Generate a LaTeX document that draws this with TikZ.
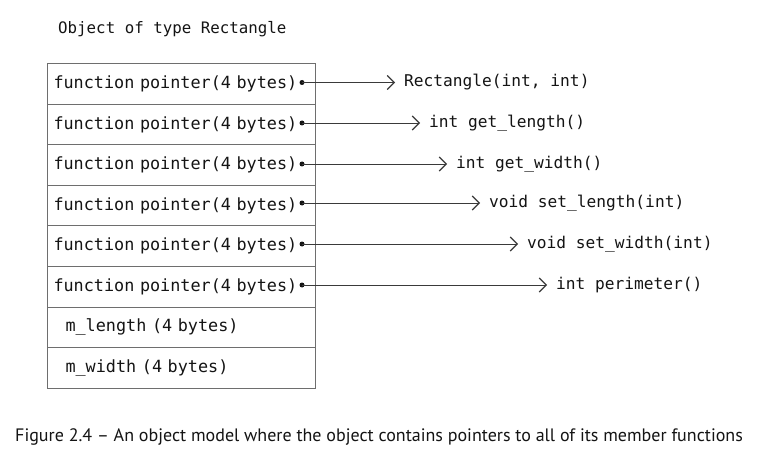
\documentclass[tikz,border=0pt]{standalone}
\usepackage{fontspec}
\setmonofont{DejaVu Sans Mono}
\newfontfamily\capfont{PT Sans}
\usetikzlibrary{arrows.meta}
\definecolor{boxgray}{HTML}{6E6E6E}
\definecolor{ink}{HTML}{141414}
\definecolor{linegray}{HTML}{3A3A3A}
\begin{document}
\begin{tikzpicture}[x=1pt,y=-1pt,
  cell/.style={draw=boxgray, line width=1pt, rectangle, anchor=north west,
    minimum width=268pt, minimum height=40.6pt, text width=256pt, inner xsep=6pt,
    inner ysep=0pt, align=left, text=ink, font=\ttfamily\fontsize{16.8}{19}\selectfont},
  func/.style={anchor=west, inner sep=0pt, text=ink, font=\ttfamily\fontsize{16.2}{19}\selectfont},
  ptr/.style={draw=linegray, line width=0.9pt, -{Straight Barb[length=7pt,width=14pt,line width=1.1pt]}, shorten >=9pt},
  dotmark/.style={circle, fill=ink, inner sep=0pt, minimum size=5pt}]
\useasboundingbox (0,0) rectangle (770,457);
\fill[white] (0,0) rectangle (770,457);
\node[func, font=\ttfamily\fontsize{15.8}{19}\selectfont] (title) at (58,29) {Object of type Rectangle};
\foreach \i/\t in {1/{function pointer(4 bytes)},2/{function pointer(4 bytes)},3/{function pointer(4 bytes)},4/{function pointer(4 bytes)},5/{function pointer(4 bytes)},6/{function pointer(4 bytes)},7/{\hspace*{12pt}m\_length (4 bytes)},8/{\hspace*{12pt}m\_width (4 bytes)}}{
  \node[cell] (c\i) at (47,{63+(\i-1)*40.6}) {\t};
}
\foreach \i/\y in {1/82.5,2/123,3/164,4/203,5/244,6/285}{
  \node[dotmark] (d\i) at (302,\y) {};
}
\node[func] (f1) at (404,82.5) {Rectangle(int, int)};
\node[func] (f2) at (429,123) {int get\_length()};
\node[func] (f3) at (456,164) {int get\_width()};
\node[func] (f4) at (489,203) {void set\_length(int)};
\node[func] (f5) at (527,244) {void set\_width(int)};
\node[func] (f6) at (556,285) {int perimeter()};
\foreach \i in {1,...,6}{
  \draw[ptr] (d\i.center) -- (f\i.west);
}
\node[anchor=west, inner sep=0pt, text=ink, font=\capfont\fontsize{18}{21}\selectfont] (cap) at (15,437) {Figure 2.4 – An object model where the object contains pointers to all of its member functions};
\end{tikzpicture}
\end{document}
